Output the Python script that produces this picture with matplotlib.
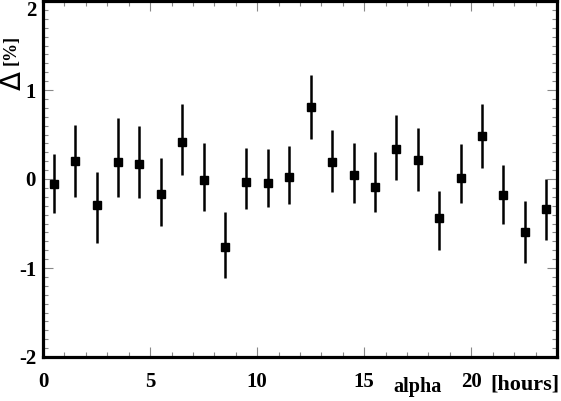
import matplotlib.pyplot as plt
import numpy as np
from matplotlib.ticker import MultipleLocator

# hour bins of right ascension
alpha = [0.5, 1.5, 2.5, 3.5, 4.5, 5.5, 6.5, 7.5, 8.5, 9.5, 10.5, 11.5,
         12.5, 13.5, 14.5, 15.5, 16.5, 17.5, 18.5, 19.5, 20.5, 21.5, 22.5, 23.5]
delta = [-0.06, 0.20, -0.29, 0.19, 0.17, -0.17, 0.42, -0.01, -0.76, -0.03, -0.04, 0.02,
         0.81, 0.19, 0.05, -0.09, 0.34, 0.21, -0.44, 0.01, 0.48, -0.18, -0.60, -0.34]
err_lo = [0.32, 0.40, 0.43, 0.39, 0.38, 0.36, 0.38, 0.35, 0.35, 0.31, 0.28, 0.30,
          0.36, 0.34, 0.32, 0.28, 0.35, 0.34, 0.36, 0.28, 0.36, 0.32, 0.34, 0.35]
err_hi = [0.34, 0.41, 0.37, 0.50, 0.43, 0.41, 0.42, 0.42, 0.39, 0.38, 0.38, 0.35,
          0.36, 0.36, 0.36, 0.39, 0.38, 0.36, 0.30, 0.38, 0.36, 0.34, 0.35, 0.34]

fig = plt.figure(figsize=(5.61, 4.01), dpi=100)
ax = fig.add_axes([43/561, 44/401, 514/561, 356/401])

ax.errorbar(alpha, delta, yerr=[err_lo, err_hi], fmt='s', ms=5.3, color='black',
            ecolor='black', elinewidth=1.8, capsize=0)

ax.set_xlim(0, 24)
ax.set_ylim(-2, 2)
ax.set_xticks([0, 5, 10, 15, 20])
ax.set_yticks([-2, -1, 0, 1, 2])
ax.set_yticklabels(['-2', '-1', '0', '1', '2'])
ax.xaxis.set_minor_locator(MultipleLocator(1))
ax.yaxis.set_minor_locator(MultipleLocator(0.1))
ax.tick_params(which='both', direction='in', top=True, right=True, color='#888888', width=0.8)
ax.tick_params(which='major', length=7)
ax.tick_params(which='minor', length=3.5)
ax.tick_params(axis='x', pad=11)
ax.tick_params(axis='y', pad=5)

for lab in ax.get_xticklabels() + ax.get_yticklabels():
    lab.set_fontfamily('Liberation Serif')
    lab.set_fontweight('bold')
    lab.set_fontsize(15)
ax.get_yticklabels()[-1].set_verticalalignment('top')

for s in ax.spines.values():
    s.set_linewidth(2.3)
    s.set_color('black')

# axis titles
fig.text(13/561, 1 - 81/401, '\u0394', rotation=90, fontsize=20, family='DejaVu Sans',
         ha='center', va='center')
fig.text(11/561, 1 - 50/401, '[%]', rotation=90, fontsize=13, family='Liberation Serif',
         fontweight='bold', ha='center', va='center')
fig.text(418/561, 1 - 387/401, 'alpha', fontsize=14.5, family='Liberation Serif',
         fontweight='bold', ha='center', va='center')
fig.text(525/561, 1 - 385/401, '[hours]', fontsize=16, family='Liberation Serif',
         fontweight='bold', ha='center', va='center')

plt.savefig('out.png', dpi=100)
